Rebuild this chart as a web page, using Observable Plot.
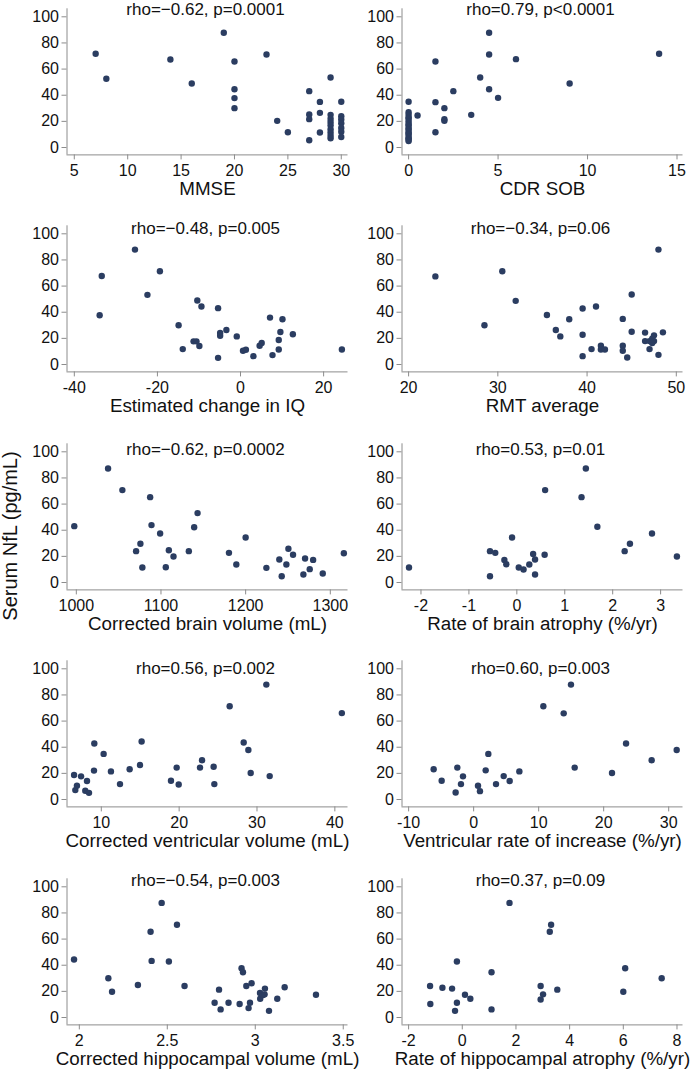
<!DOCTYPE html>
<html><head><meta charset="utf-8">
<script src="https://cdn.jsdelivr.net/npm/d3@7"></script>
<script src="https://cdn.jsdelivr.net/npm/@observablehq/plot@0.6"></script>
<style>
body{margin:0;background:#fff;}
#chart{position:relative;width:694px;height:1070px;overflow:hidden;background:#fff;font-family:"Liberation Sans",Arial,sans-serif;}
#chart svg{position:absolute;overflow:visible;background:transparent;}
#ylab{position:absolute;left:9.5px;top:536px;transform:translate(-50%,-50%) rotate(-90deg);white-space:nowrap;font-size:20px;line-height:1;color:#111;}
</style></head><body><div id="chart"><div id="ylab">Serum NfL (pg/mL)</div></div>
<script>
// Y axis (Serum NfL) ticks
const nflTicks = [0, 20, 40, 60, 80, 100];

// Panel 1: MMSE
const mmse = [7,8,14,16,19,20,20,20,20,23,24,25,27,27,27,27,28,28,28,29,29,29,29,29,29,29,29,29,30,30,30,30,30,30,30];
const nflMmse = [71.7,52.6,67.3,49,87.8,65.8,44.6,37.8,30.1,71.2,20.4,11.7,43.1,25.3,21.7,5.6,34.9,26.5,11.5,53.6,25,22,19.5,17,14,11.5,9,7,35,24,21.5,18.5,15,12,8];
const mmseTicks = [5,10,15,20,25,30];

// Panel 2: CDR SOB
const cdr = [4.5,4.5,6,14,1.5,4,9,2.5,4.5,5,1.5,2,2,2,3.5,1.5,0.5,0,0,0,0,0,0,0,0,0,0,0,0,0,0,0,0,0];
const nflCdr = [87.8,71.2,67.6,71.7,65.8,53.6,49,43.1,44.6,38,34.7,30.1,21.7,20.4,25,11.7,24.5,35,27,25,23,22,20,18,17,15,14,12,11,10,8,7,6,5];
const cdrTicks = [0,5,10,15];

// Panel 3: Estimated change in IQ
const iq = [-25.4,-33.4,-19.4,-22.4,-33.9,-10.4,-9.4,-5.4,-14.9,-13.9,-11.3,-10.6,-9.9,-5.4,-4.9,-4.9,-3.4,-0.9,0.6,1.3,3.1,4.6,5.1,7.1,7.7,10.1,9.6,9.2,9.2,12.6,24.4];
const nflIq = [87.9,67.7,71.3,53.3,37.7,49,44.4,43.1,30,11.8,17.7,17.7,14.1,5.1,24.1,22,26.4,21.5,10.5,11.3,6.4,14.4,16.4,35.9,7.2,34.6,24.9,18.7,11.5,23.1,11.5];
const iqTicks = [-40,-20,0,20];

// Panel 4: RMT average
const rmt = [23,28.5,30.5,32,35.5,36.5,37,38,39.5,39.5,39.5,41,40.5,41.55,41.55,42,44,44,44,44.5,45,45,48,46.5,46.5,47,47,47.3,47.5,47.5,48,48.5,47.3];
const nflRmt = [67.4,30,71.3,48.7,37.9,26.4,21.5,34.6,42.8,22.8,6.4,44.4,11.8,14.4,11.5,11.5,34.9,14.4,10.5,5.4,53.6,25.1,87.9,24.4,17.9,17.9,11.8,19.7,22.3,17.9,7.4,24.6,16.4];
const rmtTicks = [20,30,40,50];

// Panel 5: Corrected brain volume
const brainVol = [997.6,1037.5,1054.4,1087.2,1088.8,1099,1070.6,1075.7,1078,1105.7,1109.3,1114.8,1132.9,1139.2,1143.2,1180.3,1189,1200,1224.5,1239.8,1242.6,1248.1,1250.5,1256,1268.2,1270.2,1275.7,1279.7,1291.1,1316];
const nflBrainVol = [43.1,87.2,70.7,65.3,43.9,37.5,24,29.6,11.5,11.7,24.7,19.9,24,42.3,53.1,22.7,13.8,34.4,11.2,17.6,4.8,13.8,25.8,21.2,6.1,18.4,10.2,17.3,6.9,22.4];
const brainVolTicks = [1000,1100,1200,1300];

// Panel 6: Rate of brain atrophy
const brainAtr = [-2.25,-0.56,-0.56,-0.45,-0.26,-0.22,-0.1,0.04,0.14,0.26,0.34,0.38,0.38,0.58,0.59,1.35,1.44,1.68,2.25,2.36,2.82,3.34];
const nflBrainAtr = [11.5,24,4.8,22.7,17.3,14,34.4,11.5,9.9,13.8,21.9,17.6,6.1,21.2,70.7,65.3,87.2,42.6,24,29.6,37.5,19.9];
const brainAtrTicks = [-2,-1,0,1,2,3];

// Panel 7: Corrected ventricular volume
const ventVol = [6.5,6.66,6.87,7.4,7.94,8.16,8.42,9.1,9.06,10.3,11.24,12.4,13.64,14.97,15.18,18.95,19.68,19.94,22.68,22.94,24.43,24.52,26.49,28.29,28.89,29.19,31.2,31.63,40.9];
const nflVentVol = [18.7,7.2,10.5,17.7,6.7,14.1,5.1,42.8,22.1,34.9,21.5,11.8,23.1,26.4,44.4,14.4,24.4,11.5,24.4,30,25.1,11.8,71.3,43.6,37.9,20.3,87.9,17.9,66.1];
const ventVolTicks = [10,20,30,40];

// Panel 8: Ventricular rate of increase
const ventRate = [-6.15,-4.92,-2.77,-2.51,-1.95,-1.64,0.67,0.97,1.85,2.26,3.44,4.62,5.54,7.03,10.72,13.85,14.97,15.54,21.28,23.44,27.38,31.23];
const nflVentRate = [23.1,14.4,5.4,24.4,11.8,17.7,10.5,6.4,22.3,34.9,11.8,17.9,14.1,21.5,71.3,65.9,87.9,24.4,20.3,42.8,30,37.9];
const ventRateTicks = [-10,0,10,20,30];

// Panel 9: Corrected hippocampal volume
const hippoVol = [1.97,2.165,2.186,2.333,2.405,2.411,2.468,2.509,2.555,2.598,2.769,2.794,2.803,2.848,2.911,2.922,2.93,2.949,2.962,2.97,2.979,3.027,3.028,3.044,3.053,3.055,3.078,3.125,3.167,3.345];
const nflHippoVol = [44.4,30,19.7,24.9,65.6,43.3,87.7,42.8,71,24.1,11.3,21.3,6.2,11.3,10.3,37.7,34.6,24.1,7.2,11.3,26.2,18.7,14.4,17.2,17.7,22.1,5.1,14.4,23.1,17.4];
const hippoVolTicks = [2,2.5,3,3.5];

// Panel 10: Rate of hippocampal atrophy
const hippoAtr = [-1.2,-1.19,-0.74,-0.38,-0.27,-0.2,-0.2,0.1,0.3,1.09,1.09,1.76,2.92,2.92,3.01,3.26,3.31,3.54,6.0,6.07,7.43];
const nflHippoAtr = [24.1,10.3,22.8,22.1,5.1,11.3,42.8,17.4,14.4,34.6,6.2,87.7,24.1,13.8,17.7,65.6,71,21.3,19.7,37.7,30];
const hippoAtrTicks = [-2,0,2,4,6,8];

const titles = ["rho=\u22120.62, p=0.0001","rho=0.79, p<0.0001","rho=\u22120.48, p=0.005","rho=\u22120.34, p=0.06","rho=\u22120.62, p=0.0002","rho=0.53, p=0.01","rho=0.56, p=0.002","rho=0.60, p=0.003","rho=\u22120.54, p=0.003","rho=0.37, p=0.09"];
const xLabels = ["MMSE","CDR SOB","Estimated change in IQ","RMT average","Corrected brain volume (mL)","Rate of brain atrophy (%/yr)","Corrected ventricular volume (mL)","Ventricular rate of increase (%/yr)","Corrected hippocampal volume (mL)","Rate of hippocampal atrophy (%/yr)"];

const panels = [
  {x: mmse, y: nflMmse, ticks: mmseTicks, domain: [4.317, 30.63]},
  {x: cdr, y: nflCdr, ticks: cdrTicks, domain: [-0.369, 15.335]},
  {x: iq, y: nflIq, ticks: iqTicks, domain: [-41.76, 25.87]},
  {x: rmt, y: nflRmt, ticks: rmtTicks, domain: [19.26, 50.75]},
  {x: brainVol, y: nflBrainVol, ticks: brainVolTicks, domain: [989, 1320.9]},
  {x: brainAtr, y: nflBrainAtr, ticks: brainAtrTicks, domain: [-2.396, 3.467]},
  {x: ventVol, y: nflVentVol, ticks: ventVolTicks, domain: [5.593, 41.69]},
  {x: ventRate, y: nflVentRate, ticks: ventRateTicks, domain: [-11.02, 32.2]},
  {x: hippoVol, y: nflHippoVol, ticks: hippoVolTicks, domain: [1.930, 3.527]},
  {x: hippoAtr, y: nflHippoAtr, ticks: hippoAtrTicks, domain: [-2.246, 8.224]}
];

const yDomain = [-5.66, 106.12];
const titleDy = [0.3, 2.8, 5.3, 7.8, 1.7];
const axisColor = "#8c8c8c";
const dotColor = "#2b3d61";
const font = "'Liberation Sans', Arial, Helvetica, sans-serif";
const chart = document.getElementById("chart");

panels.forEach((p, i) => {
  const row = Math.floor(i / 2), col = i % 2;
  const y0 = 146.7 + 217.5 * row;
  const left = col ? 335 : 0;
  const width = col ? 359 : 350;
  const marginLeft = 66.5;
  const marginRight = width - marginLeft - 281;
  const height = 215, marginTop = 21.3, plotH = 146.1;
  const marginBottom = height - marginTop - plotH;
  const data = p.x.map((v, k) => ({x: v, y: p.y[k]}));
  const svg = Plot.plot({
    width, height, marginLeft, marginRight, marginTop, marginBottom,
    style: {fontFamily: font, fontSize: "16px", background: "transparent", overflow: "visible", color: "#111"},
    x: {domain: p.domain, label: null},
    y: {domain: yDomain, label: null},
    marks: [
      Plot.ruleX([p.domain[0]], {stroke: axisColor, strokeWidth: 1}),
      Plot.ruleY([yDomain[0]], {stroke: axisColor, strokeWidth: 1}),
      Plot.axisX({ticks: p.ticks, tickSize: 5, tickPadding: 5, stroke: axisColor, fill: "#111", label: null, tickFormat: d => String(d), fontSize: 16}),
      Plot.axisY({ticks: nflTicks, tickSize: 5, tickPadding: 3, stroke: axisColor, fill: "#111", label: null, tickFormat: d => String(d), fontSize: 16}),
      Plot.dot(data, {x: "x", y: "y", r: 3.2, fill: dotColor, stroke: "none"}),
      Plot.text([titles[i]], {frameAnchor: "top", lineAnchor: "middle", dy: titleDy[row], dx: -2, fontSize: 17, fill: "#111"}),
      Plot.text([xLabels[i]], {frameAnchor: "bottom", lineAnchor: "middle", dy: 33.6, fontSize: 18.8, fill: "#111"})
    ]
  });
  svg.style.left = left + "px";
  svg.style.top = (y0 - 160) + "px";
  svg.style.background = "transparent";
  svg.style.maxWidth = "none";
  chart.appendChild(svg);
});
</script>
</body></html>
